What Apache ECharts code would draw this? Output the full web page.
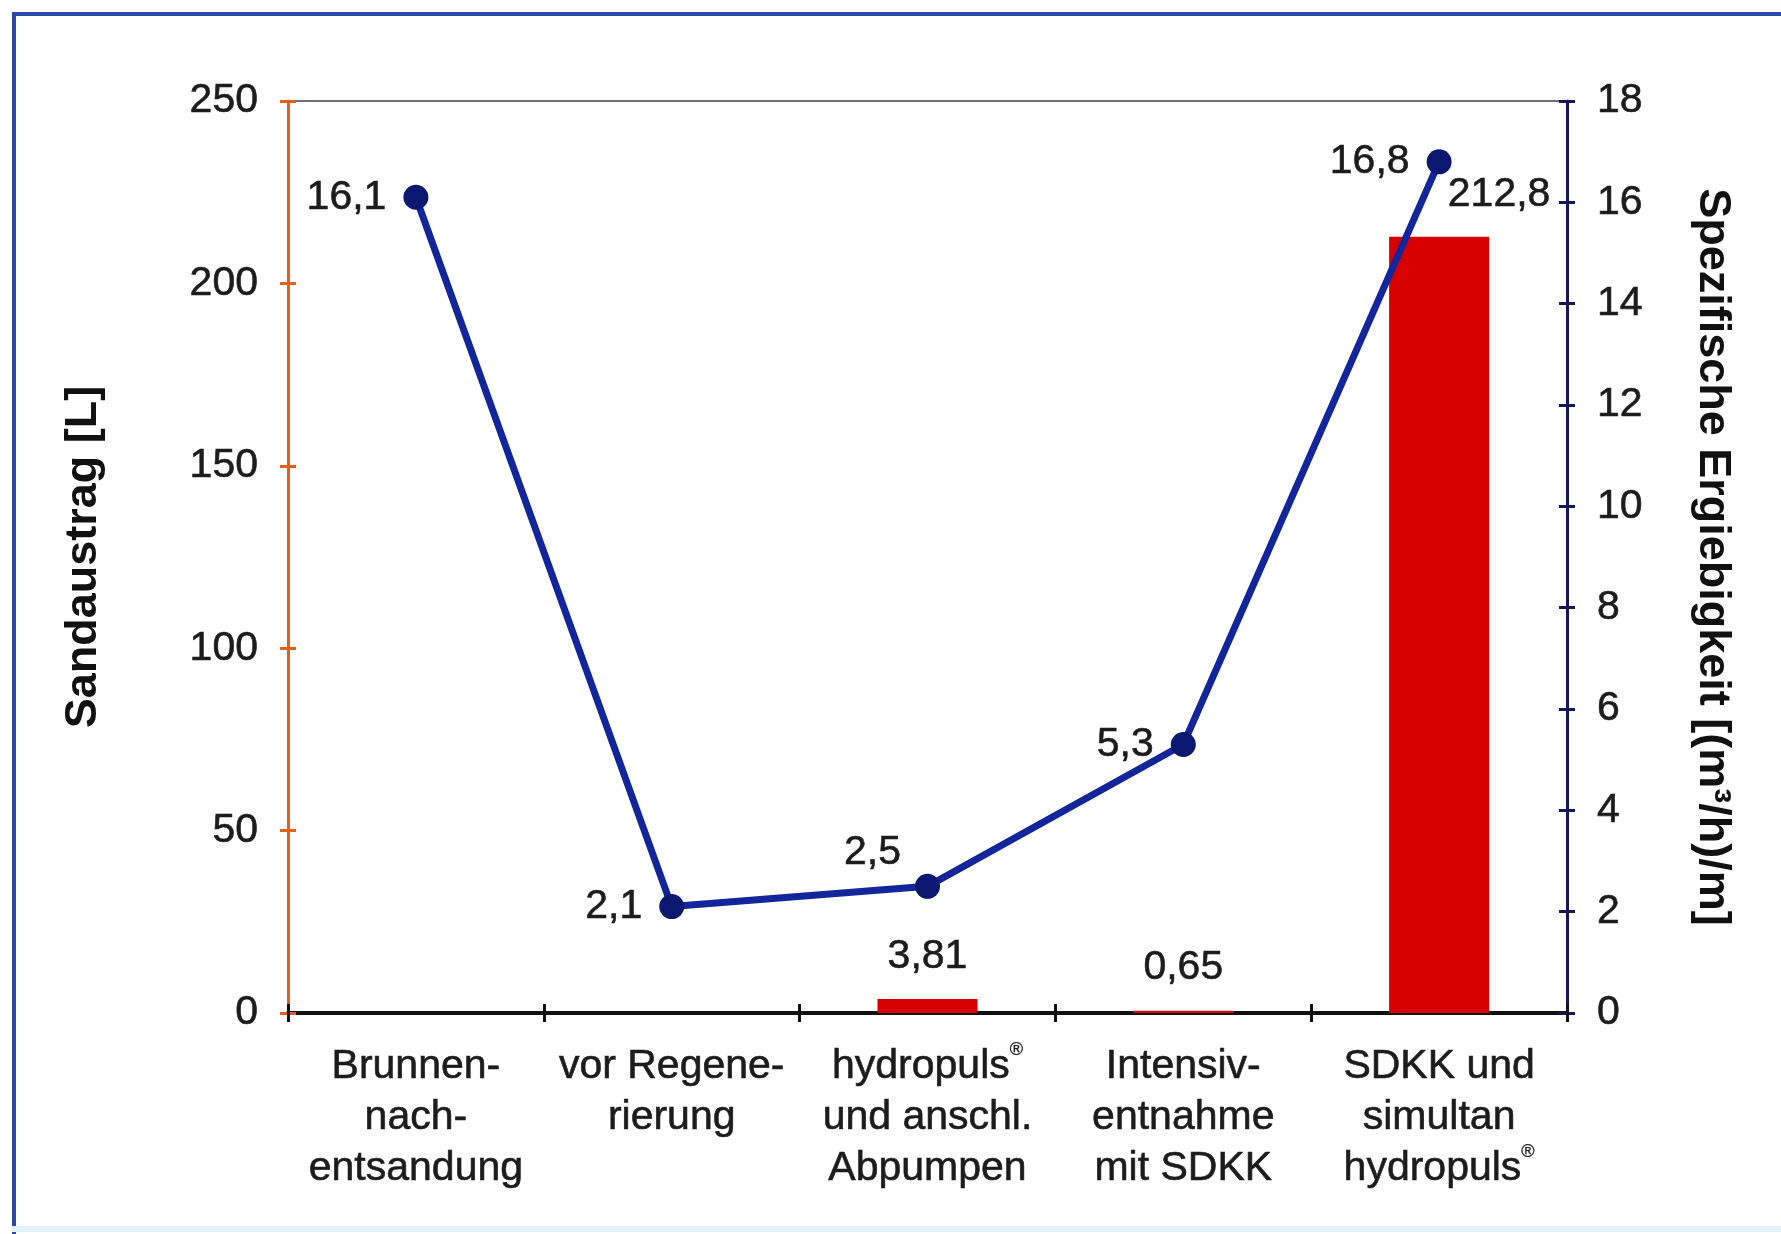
<!DOCTYPE html>
<html>
<head>
<meta charset="utf-8">
<script src="https://cdn.jsdelivr.net/npm/echarts@6/dist/echarts.min.js"></script>
<style>
  html, body { margin: 0; padding: 0; background: #ffffff; }
  #chart { width: 1781px; height: 1234px; }
</style>
</head>
<body>
<div id="chart"></div>
<script>
// Categories (stages of the well treatment)
const categories = [
  'Brunnen-\nnach-\nentsandung',
  'vor Regene-\nrierung',
  'hydropuls®\nund anschl.\nAbpumpen',
  'Intensiv-\nentnahme\nmit SDKK',
  'SDKK und\nsimultan\nhydropuls®'
];
// Sand output [L] (bars, left axis)
const sandaustrag = [null, null, 3.81, 0.65, 212.8];
// Specific yield [(m³/h)/m] (line, right axis)
const ergiebigkeit = [16.1, 2.1, 2.5, 5.3, 16.8];
// Axis scales
const leftAxisMax = 250, leftAxisStep = 50;
const rightAxisMax = 18, rightAxisStep = 2;

const FONT = '"Liberation Sans", Arial, Helvetica, sans-serif';
const TXT = '#1c1c1c';
const ORANGE = '#e0601c';
const NAVY_AXIS = '#16165a';
const LINE_BLUE = '#12259a';
const BAR_RED = '#d80000';
const FS = 41;

const comma = v => String(v).replace('.', ',');
const supReg = s => s.replace(/®/g, '{sup|®}');

// slightly heavier text, as in printed charts
const ink = { color: TXT, textBorderColor: TXT, textBorderWidth: 0.6, fontFamily: FONT };

const chart = echarts.init(document.getElementById('chart'), null, { renderer: 'canvas' });

const option = {
  backgroundColor: '#ffffff',
  animation: false,
  textStyle: { fontFamily: FONT },
  grid: { left: 288, right: 214, top: 101, bottom: 221, containLabel: false },
  graphic: [
    { type: 'line', shape: { x1: 12, y1: 14, x2: 1781, y2: 14 }, style: { stroke: '#2b47a8', lineWidth: 4 } },
    { type: 'line', shape: { x1: 14, y1: 12, x2: 14, y2: 1234 }, style: { stroke: '#2b47a8', lineWidth: 4 } },
    { type: 'line', shape: { x1: 12, y1: 1229, x2: 1781, y2: 1229 }, style: { stroke: '#e2f2fb', lineWidth: 6 } }
  ],
  xAxis: [
    {
      type: 'category',
      data: categories,
      position: 'bottom',
      axisLine: { show: true, onZero: false, lineStyle: { color: '#111111', width: 4 } },
      axisTick: { show: true, length: 9, lineStyle: { color: '#111111', width: 3 } },
      axisLabel: Object.assign({
        interval: 0,
        margin: 28,
        fontSize: FS,
        lineHeight: 51,
        formatter: v => supReg(v),
        rich: { sup: Object.assign({}, ink, { fontSize: 18, verticalAlign: 'top', lineHeight: 30, textBorderWidth: 0.3 }) }
      }, ink),
      splitLine: { show: false }
    },
    {
      // inner half of the crossing ticks on the category axis
      type: 'category',
      data: categories,
      position: 'bottom',
      axisLine: { show: false, onZero: false },
      axisTick: { show: true, inside: true, length: 9, lineStyle: { color: '#111111', width: 3 } },
      axisLabel: { show: false },
      splitLine: { show: false }
    },
    {
      // top frame line of the plot area
      type: 'category',
      data: categories,
      position: 'top',
      axisLine: { show: true, onZero: false, lineStyle: { color: '#6f6f78', width: 2 } },
      axisTick: { show: false },
      axisLabel: { show: false },
      splitLine: { show: false }
    }
  ],
  yAxis: [
    {
      type: 'value',
      position: 'left',
      min: 0, max: leftAxisMax, interval: leftAxisStep,
      name: 'Sandaustrag [L]',
      nameLocation: 'middle',
      nameGap: 182,
      nameRotate: 90,
      nameTextStyle: { fontSize: 45, fontWeight: 'bold', color: '#111111', fontFamily: FONT },
      axisLine: { show: true, lineStyle: { color: ORANGE, width: 3 } },
      axisTick: { show: true, length: 8, lineStyle: { color: ORANGE, width: 3 } },
      axisLabel: Object.assign({ fontSize: FS, margin: 30 }, ink),
      splitLine: { show: false }
    },
    {
      type: 'value',
      position: 'right',
      min: 0, max: rightAxisMax, interval: rightAxisStep,
      name: 'Spezifische Ergiebigkeit [(m³/h)/m]',
      nameLocation: 'middle',
      nameGap: 123,
      nameRotate: -90,
      nameTextStyle: { fontSize: 45, fontWeight: 'bold', color: '#111111', fontFamily: FONT },
      axisLine: { show: true, lineStyle: { color: NAVY_AXIS, width: 3 } },
      axisTick: { show: true, length: 8, lineStyle: { color: NAVY_AXIS, width: 3 } },
      axisLabel: Object.assign({ fontSize: FS, margin: 30 }, ink),
      splitLine: { show: false }
    },
    {
      // inner half of the crossing ticks, left axis
      type: 'value',
      position: 'left',
      min: 0, max: leftAxisMax, interval: leftAxisStep,
      axisLine: { show: false },
      axisTick: { show: true, inside: true, length: 8, lineStyle: { color: ORANGE, width: 3 } },
      axisLabel: { show: false },
      splitLine: { show: false }
    },
    {
      // inner half of the crossing ticks, right axis
      type: 'value',
      position: 'right',
      min: 0, max: rightAxisMax, interval: rightAxisStep,
      axisLine: { show: false },
      axisTick: { show: true, inside: true, length: 8, lineStyle: { color: NAVY_AXIS, width: 3 } },
      axisLabel: { show: false },
      splitLine: { show: false }
    }
  ],
  series: [
    {
      name: 'Sandaustrag',
      type: 'bar',
      xAxisIndex: 0,
      yAxisIndex: 0,
      data: sandaustrag,
      barWidth: 100,
      itemStyle: { color: BAR_RED },
      label: Object.assign({
        show: true,
        position: 'top',
        distance: 22,
        fontSize: FS,
        formatter: p => (p.value == null ? '' : comma(p.value))
      }, ink),
      labelLayout: p => (p.dataIndex === 4 ? { dx: 60 } : {}),
      z: 2
    },
    {
      name: 'Spezifische Ergiebigkeit',
      type: 'line',
      xAxisIndex: 0,
      yAxisIndex: 1,
      data: ergiebigkeit.map((v, i) => i === 2
        ? { value: v, label: { position: 'top', distance: 1, offset: [-55, 0] } }
        : v),
      symbol: 'circle',
      symbolSize: 25,
      lineStyle: { color: LINE_BLUE, width: 7 },
      itemStyle: { color: '#0b1872' },
      label: Object.assign({
        show: true,
        position: 'left',
        distance: 17,
        fontSize: FS,
        formatter: p => comma(p.value)
      }, ink),
      z: 5
    }
  ]
};

chart.setOption(option);
</script>
</body>
</html>
